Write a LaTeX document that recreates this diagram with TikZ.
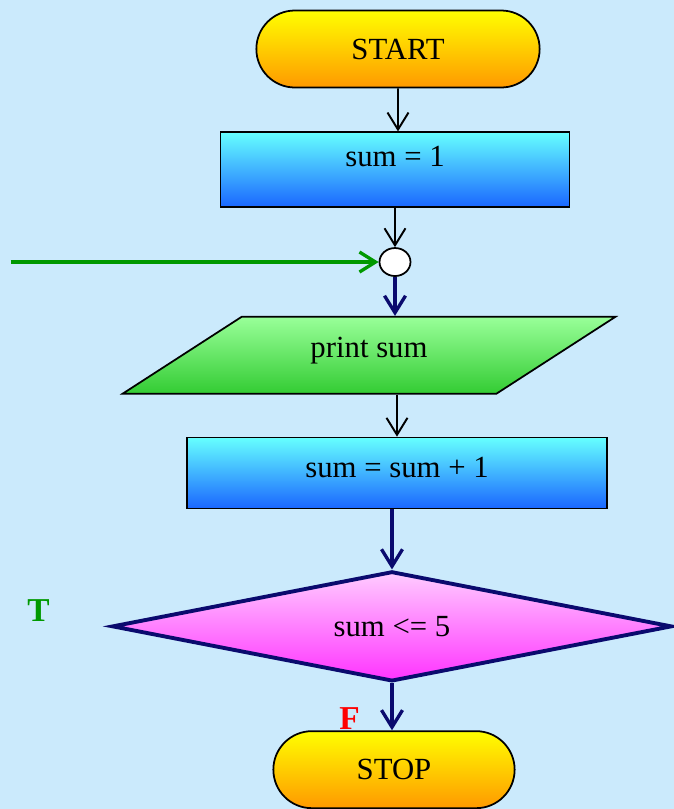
\documentclass[tikz,border=0pt]{standalone}
\usepackage{fontspec}
\setmainfont{Liberation Serif}
\usetikzlibrary{shapes.geometric, shapes.misc, arrows.meta, positioning}
\definecolor{fondoCielo}{HTML}{CBEAFC}
\definecolor{amarillo}{HTML}{FFFF00}
\definecolor{naranja}{HTML}{FF9900}
\definecolor{cian}{HTML}{66FFFF}
\definecolor{azulProc}{HTML}{1A66FF}
\definecolor{verdeClaro}{HTML}{99FF99}
\definecolor{verdeOscuro}{HTML}{33CC33}
\definecolor{rosa}{HTML}{FFCCFF}
\definecolor{fucsia}{HTML}{FF33FF}
\definecolor{azulMarino}{HTML}{0A0A6E}
\definecolor{verdeFlecha}{HTML}{009900}

\begin{document}
\begin{tikzpicture}[
        term/.style={rounded rectangle, draw=black, line width=1pt, top color=amarillo, bottom color=naranja,
            minimum width=5.9cm, minimum height=1.54cm, font=\fontsize{17.5}{20}\selectfont},
        proc/.style={rectangle, draw=black, line width=1pt, top color=cian, bottom color=azulProc,
            font=\fontsize{17.5}{20}\selectfont},
        io/.style={trapezium, trapezium left angle=38, trapezium right angle=142, trapezium stretches=true,
            draw=black, line width=1pt, top color=verdeClaro, bottom color=verdeOscuro,
            minimum width=9.86cm, minimum height=1.54cm, font=\fontsize{17.5}{20}\selectfont},
        dec/.style={diamond, aspect=5, draw=azulMarino, line width=2.2pt, top color=rosa, bottom color=fucsia,
            minimum width=11.2cm, minimum height=2.2cm, inner sep=0pt, font=\fontsize{17.5}{20}\selectfont},
        conn/.style={ellipse, draw=black, line width=1pt, fill=white, minimum width=0.62cm,
            minimum height=0.56cm, inner sep=0pt},
        flow/.style={-{Straight Barb[length=3.4mm,width=4.2mm]}, line width=1.1pt, black},
        flowb/.style={-{Straight Barb[length=3.4mm,width=4.2mm]}, line width=1.9pt, azulMarino},
        flowg/.style={-{Straight Barb[length=3.2mm,width=4mm]}, line width=1.9pt, verdeFlecha},
        etiq/.style={inner sep=0pt, font=\fontsize{19}{22}\selectfont\bfseries}
    ]
        \fill[fondoCielo] (0,0) rectangle (13.48,-16.18);
        \useasboundingbox (0,0) rectangle (13.48,-16.18);

        \node[term] (start) at (7.96,-0.98) {START};
        \node[proc, minimum width=6.98cm, minimum height=1.5cm, text depth=0.52cm,
            below=0.86cm of start, xshift=-0.06cm] (ini) {sum = 1};
        \node[conn, below=0.78cm of ini] (circ) {};
        \node[io, text depth=0.3cm, below=0.78cm of circ, xshift=-0.52cm] (prt) {print sum};
        \node[proc, minimum width=8.4cm, minimum height=1.42cm, text depth=0.24cm,
            below=0.84cm of prt.south, xshift=0.56cm] (suma) {sum = sum + 1};
        \node[dec, below=1.2cm of suma, xshift=-0.1cm] (cond) {sum <= 5};
        \node[term, minimum width=5.06cm, below=0.94cm of cond, xshift=0.04cm] (stop) {STOP};

        \coordinate[left=7.36cm of circ.west] (lazo);

        \node[etiq, verdeFlecha, left=1.2cm of cond.west, yshift=0.32cm] (lblT) {T};
        \node[etiq, red, above left=0cm and 0.68cm of stop.north] (lblF) {F};

        \draw[flow] (start) -- (start |- ini.north);
        \draw[flow] (circ |- ini.south) -- (circ);
        \draw[flowg] (lazo) -- (circ);
        \draw[flowb] (circ.south) -- (circ.south |- prt.north);
        \draw[flow] (prt.south -| suma.north) -- (suma.north);
        \draw[flowb] (cond.north |- suma.south) -- (cond.north);
        \draw[flowb] (cond.south) -- (cond.south |- stop.north);
    \end{tikzpicture}
\end{document}
